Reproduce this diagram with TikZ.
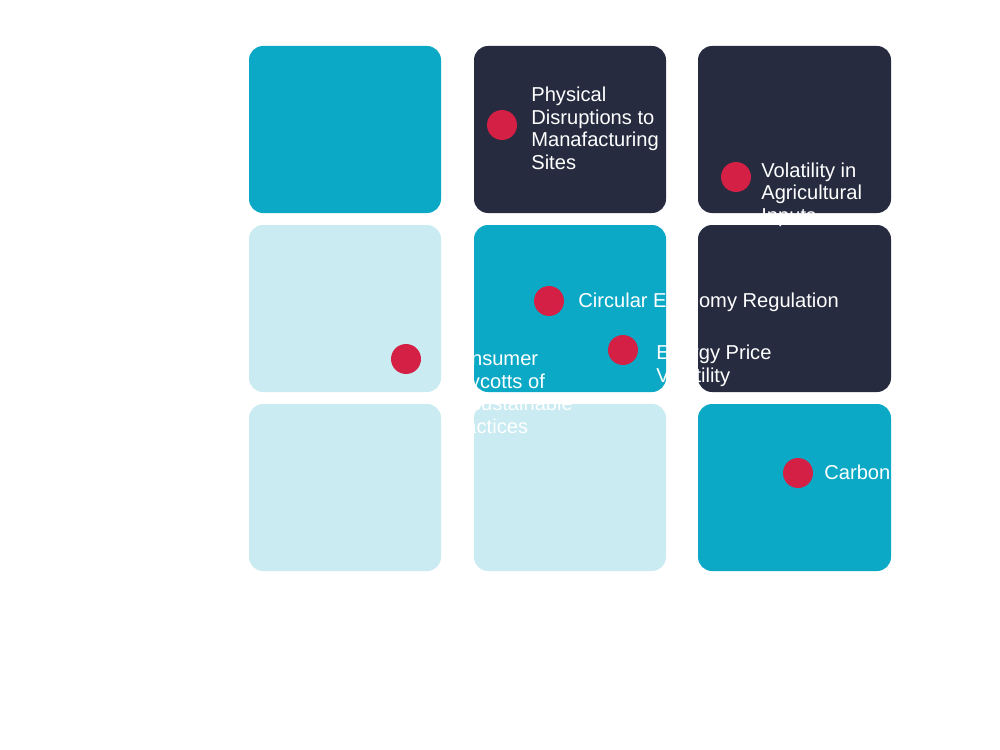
\documentclass[tikz,border=0pt]{standalone}
\usepackage{fontspec}
\setmainfont{Liberation Sans}
\definecolor{tealbox}{RGB}{11,169,198}
\definecolor{navybox}{RGB}{39,43,64}
\definecolor{palebox}{RGB}{201,235,241}
\definecolor{riskred}{RGB}{213,32,69}
\begin{document}
\begin{tikzpicture}[x=0.02cm,y=-0.02cm,
    tile/.style={rounded corners=0.28cm},
    dot/.style={circle,fill=riskred,minimum size=0.6cm,inner sep=0pt},
    risk/.style={anchor=base west,inner sep=0pt,text=white,align=left,
      font=\fontsize{11.45}{12.8}\selectfont}]

        \useasboundingbox (0,0) rectangle (1000,750);

        % tiles, row by row
        \fill[tealbox,tile] (249,46) rectangle (441,213);
        \fill[navybox,tile] (474,46) rectangle (666,213);
        \fill[navybox,tile] (698,46) rectangle (891,213);

        \fill[palebox,tile] (249,225) rectangle (441,392);
        \fill[tealbox,tile] (474,225) rectangle (666,392);
        \fill[navybox,tile] (698,225) rectangle (891,392);

        \fill[palebox,tile] (249,404) rectangle (441,571);
        \fill[palebox,tile] (474,404) rectangle (666,571);
        \fill[tealbox,tile] (698,404) rectangle (891,571);

        % risks (text placed at the baseline of its last line)
        \node[dot] (physical) at (502,125) {};
        \node[dot] (agri) at (736,177) {};
        \node[dot] (circular) at (549,301) {};
        \node[dot] (energy) at (623,350) {};
        \node[dot] (boycott) at (406,359) {};
        \node[dot] (carbon) at (798,473) {};

        \node[risk] (physicalText) at (531,169) {Physical\\Disruptions to\\Manafacturing\\Sites};
        \node[risk] (agriText) at (761,222) {Volatility in\\Agricultural\\Inputs};
        \node[risk] (circularText) at (578,307) {Circular Economy Regulation};
        \node[risk] (energyText) at (656,382) {Energy Price\\Volatility};
        \node[risk] (boycottText) at (445,433) {Consumer\\Boycotts of\\Unsustainable\\Practices};
        \node[risk] (carbonText) at (824,479) {Carbon};

\end{tikzpicture}
\end{document}
